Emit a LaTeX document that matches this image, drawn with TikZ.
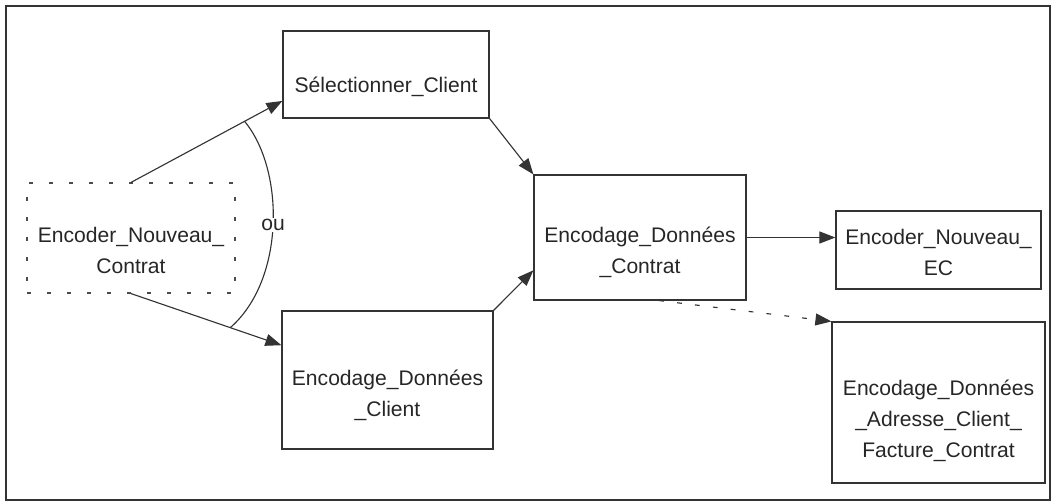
\documentclass[tikz,border=0pt]{standalone}
\usepackage{fontspec}
\setmainfont{Liberation Sans}
\usetikzlibrary{calc}
\usetikzlibrary{arrows.meta}

\tikzset{
  bloc/.style={draw=black!80, line width=0.8pt, inner sep=0pt},
  txt/.style={align=center, inner sep=0pt, font=\fontsize{15}{22}\selectfont, text=black!85},
  fleche/.style={draw=black!80, line width=0.8pt, -{Triangle[length=4mm,width=3mm]}},
}

\begin{document}
\begin{tikzpicture}[x=0.025cm,y=-0.025cm]
  \useasboundingbox (0,0) rectangle (1056,504);
  \draw[black!80, line width=1.1pt] (6,6) rectangle (1050,500);

  \node[bloc, minimum width=5.15cm, minimum height=2.175cm,
    label={[txt, yshift=-0.3cm]center:S\'electionner\_Client}] (sel) at (386,74.5) {};
  \node[bloc, draw=black!70, dash pattern=on 1mm off 4mm, minimum width=5.2cm, minimum height=2.75cm,
    label={[txt, yshift=-0.3cm]center:Encoder\_Nouveau\_\\Contrat}] (enc) at (131,238) {};
  \node[bloc, minimum width=5.3cm, minimum height=3.125cm,
    label={[txt, yshift=-0.38cm]center:Encodage\_Donn\'ees\\\_Contrat}] (ctr) at (640,237.5) {};
  \node[bloc, minimum width=5.275cm, minimum height=3.45cm,
    label={[txt, yshift=-0.38cm]center:Encodage\_Donn\'ees\\\_Client}] (cli) at (387.5,380) {};
  \node[bloc, minimum width=5.125cm, minimum height=1.95cm,
    label={[txt, yshift=-0.06cm]center:Encoder\_Nouveau\_\\EC}] (ec) at (938.5,250) {};
  \node[bloc, minimum width=5.325cm, minimum height=4.025cm,
    label={[txt, yshift=-0.45cm]center:Encodage\_Donn\'ees\\\_Adresse\_Client\_\\Facture\_Contrat}] (adr) at (938.5,402.5) {};

  \coordinate (sel_in) at ($(sel.south west)!0.2!(sel.north west)$);
  \coordinate (cli_in) at ($(cli.north west)!0.25!(cli.south west)$);
  \coordinate (ctr_in) at ($(ctr.south west)!0.24!(ctr.north west)$);
  \coordinate (ctr_out) at ($(ctr.south west)!0.59!(ctr.south east)$);

  \draw[fleche] (enc.north) -- (sel_in);
  \draw[fleche] (enc.south) -- (cli_in);
  \draw[fleche] (sel.south east) -- (ctr.north west);
  \draw[fleche] (cli.north east) -- (ctr_in);
  \draw[fleche] (ctr.east) -- (ctr.east -| ec.west);
  \draw[fleche, dash pattern=on 1.2mm off 3.3mm] (ctr_out) -- (adr.north west);

  % arc "ou" entre les deux choix
  \coordinate (ou_1) at ($(enc.north)!0.75!(sel_in)$);
  \coordinate (ou_2) at ($(enc.south)!0.66!(cli_in)$);
  \draw[black!80, line width=0.8pt] (ou_1) .. controls (285,170) and (285,280) .. (ou_2)
    node[pos=0.5, fill=white, inner sep=1pt, font=\fontsize{15}{18}\selectfont, text=black!85] (ou) {ou};
\end{tikzpicture}
\end{document}
